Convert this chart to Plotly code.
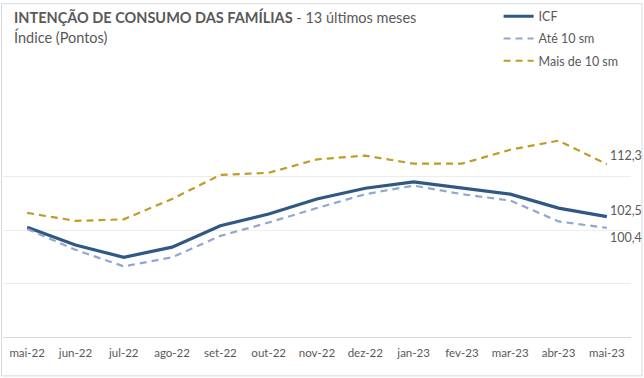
import plotly.graph_objects as go

months = ["mai-22", "jun-22", "jul-22", "ago-22", "set-22", "out-22", "nov-22",
          "dez-22", "jan-23", "fev-23", "mar-23", "abr-23", "mai-23"]
icf = [100.5, 97.2, 94.9, 96.8, 100.8, 103.0, 105.8, 107.8, 109.0, 107.8, 106.7, 104.1, 102.5]
ate10 = [100.2, 96.3, 93.2, 94.9, 98.9, 101.4, 104.1, 106.7, 108.3, 106.7, 105.5, 101.6, 100.4]
mais10 = [103.2, 101.7, 102.0, 105.8, 110.3, 110.7, 113.2, 113.9, 112.4, 112.4, 115.0, 116.7, 112.3]

W, H = 644, 378
L, R, T, B = 3, 12.5, 121.7, 40.7
pw, ph = W - L - R, H - T - B

def px(x):
    return (x - L) / pw

def py(y):
    return (H - B - y) / ph

grey = "#595959"
font = "Lato"

fig = go.Figure()
fig.add_trace(go.Scatter(x=list(range(len(months))), y=icf, name="ICF", mode="lines",
                         legendgroup="a",
                         line=dict(color="#2F5885", width=3.2)))
fig.add_trace(go.Scatter(x=list(range(len(months))), y=ate10, name="Até 10 sm", mode="lines",
                         legendgroup="b",
                         line=dict(color="#92A6D0", width=2.2, dash="7px,5px")))
fig.add_trace(go.Scatter(x=list(range(len(months))), y=mais10, name="Mais de 10 sm", mode="lines",
                         legendgroup="c",
                         line=dict(color="#C09B25", width=2.2, dash="7px,5px")))

def fmt(v):
    return f"{v:.1f}".replace(".", ",")

last = len(months) - 1
for vals, shift in [(mais10, 9), (icf, 6), (ate10, -10)]:
    fig.add_annotation(x=last, y=vals[last], xref="x", yref="y", text=fmt(vals[last]),
                       showarrow=False, xanchor="left", yanchor="middle", xshift=1, yshift=shift,
                       font=dict(family=font, size=12.5, color=grey))

fig.add_annotation(xref="paper", yref="paper", x=px(12), y=py(26), xanchor="left", yanchor="bottom",
                   text="<b>INTENÇÃO DE CONSUMO DAS FAMÍLIAS</b> - 13 últimos meses",
                   showarrow=False, font=dict(family=font, size=14.5, color=grey))
fig.add_annotation(xref="paper", yref="paper", x=px(12), y=py(46), xanchor="left", yanchor="bottom",
                   text="Índice (Pontos)",
                   showarrow=False, font=dict(family=font, size=14.5, color=grey))

fig.add_shape(type="rect", xref="paper", yref="paper",
              x0=px(1.5), x1=px(642.5), y0=py(376.5), y1=py(1.5),
              line=dict(color="#D9D9D9", width=1), layer="below")

fig.update_layout(
    width=W, height=H,
    margin=dict(l=L, r=R, t=T, b=B, pad=0),
    paper_bgcolor="white", plot_bgcolor="white",
    showlegend=True,
    legend=dict(x=px(499), y=py(1), xanchor="left", yanchor="top",
                font=dict(family=font, size=12.5, color=grey),
                tracegroupgap=3, bgcolor="rgba(0,0,0,0)"),
    xaxis=dict(tickmode="array", tickvals=list(range(len(months))), ticktext=months,
               range=[-0.5, len(months) - 0.5], showgrid=False, showline=True,
               linecolor="#D9D9D9", linewidth=1, ticks="", zeroline=False,
               tickfont=dict(family=font, size=11.5, color=grey), ticklabelstandoff=5),
    yaxis=dict(range=[80, 120], dtick=10, showgrid=True, gridcolor="#EDEDED", gridwidth=1,
               showticklabels=False, zeroline=False, showline=False),
)

fig.write_html("out.html", config={"displayModeBar": False},
               post_script="document.body.style.margin='0';document.body.style.overflow='hidden';")
